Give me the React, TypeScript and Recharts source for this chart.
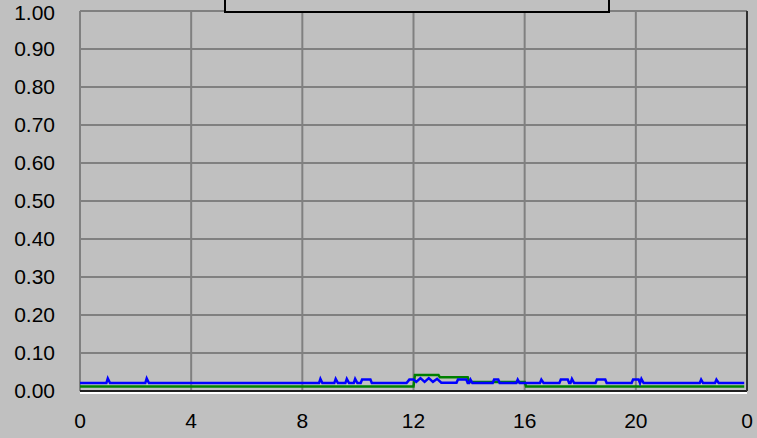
import React from "react";
import {
  LineChart,
  Line,
  XAxis,
  YAxis,
  CartesianGrid,
  ReferenceLine,
} from "recharts";

// hours of day (0..24) and measured fraction
const blueHours = [
  0, 0.95, 1.0, 1.08, 2.35, 2.4, 2.48, 8.6, 8.65, 8.72, 9.15, 9.2, 9.28, 9.55,
  9.6, 9.68, 9.85, 9.9, 9.98, 10.1, 10.15, 10.45, 10.5, 11.75, 11.85, 12.0,
  12.1, 12.25, 12.4, 12.55, 12.7, 12.85, 13.0, 13.55, 13.6, 13.9, 13.95, 14.0,
  14.05, 14.12, 14.85, 14.9, 15.05, 15.1, 15.7, 15.75, 15.82, 16.55, 16.6,
  16.68, 17.25, 17.3, 17.55, 17.6, 17.65, 17.7, 17.78, 18.55, 18.6, 18.9,
  18.95, 19.85, 19.9, 20.1, 20.15, 20.2, 20.28, 22.3, 22.35, 22.42, 22.85,
  22.9, 22.98, 23.9,
];
const blueValues = [
  0.021, 0.021, 0.033, 0.021, 0.021, 0.033, 0.021, 0.021, 0.032, 0.021, 0.021,
  0.032, 0.021, 0.021, 0.032, 0.021, 0.021, 0.032, 0.021, 0.021, 0.03, 0.03,
  0.021, 0.021, 0.03, 0.03, 0.024, 0.034, 0.024, 0.034, 0.024, 0.032, 0.022,
  0.022, 0.03, 0.03, 0.021, 0.021, 0.03, 0.021, 0.021, 0.03, 0.03, 0.021,
  0.021, 0.03, 0.021, 0.021, 0.03, 0.021, 0.021, 0.03, 0.03, 0.021, 0.021,
  0.032, 0.021, 0.021, 0.03, 0.03, 0.021, 0.021, 0.03, 0.03, 0.021, 0.032,
  0.021, 0.021, 0.03, 0.021, 0.021, 0.03, 0.021, 0.021,
];

const greenHours = [0, 12.0, 12.05, 12.9, 12.95, 13.95, 14.0, 16.0, 16.05, 23.9];
const greenValues = [
  0.012, 0.012, 0.042, 0.042, 0.036, 0.036, 0.024, 0.024, 0.012, 0.012,
];

const xTicks = [0, 4, 8, 12, 16, 20, 24];
const yTicks = [0, 0.1, 0.2, 0.3, 0.4, 0.5, 0.6, 0.7, 0.8, 0.9, 1.0];

const blueData = blueHours.map((h, i) => ({ h, v: blueValues[i] }));
const greenData = greenHours.map((h, i) => ({ h, v: greenValues[i] }));

const tickStyle = {
  fontSize: 21,
  fill: "#000",
  fontFamily: "Liberation Sans, Arial, sans-serif",
};

export default function App() {
  return (
    <div
      style={{
        position: "absolute",
        left: 0,
        top: 0,
        width: 757,
        height: 438,
        background: "#c0c0c0",
        overflow: "hidden",
      }}
    >
      <LineChart
        width={757}
        height={438}
        margin={{ top: 11, right: 10, left: 0, bottom: 0 }}
      >
        <CartesianGrid stroke="#808080" strokeWidth={2} />
        <XAxis
          dataKey="h"
          type="number"
          domain={[0, 24]}
          ticks={xTicks}
          allowDuplicatedCategory={false}
          tickFormatter={(v: number) => (v === 24 ? "0" : String(v))}
          tick={tickStyle}
          tickSize={0}
          tickMargin={22}
          height={47}
          axisLine={{ stroke: "#ffffff", strokeWidth: 2, transform: "translate(0,2)" }}
        />
        <YAxis
          type="number"
          domain={[0, 1]}
          ticks={yTicks}
          tickFormatter={(v: number) => v.toFixed(2)}
          tick={tickStyle}
          tickSize={0}
          tickMargin={25}
          width={80}
          axisLine={false}
        />
        <ReferenceLine y={0} stroke="#202020" strokeWidth={2} />
        <ReferenceLine x={24} stroke="#303030" strokeWidth={2} />
        <Line
          data={greenData}
          dataKey="v"
          type="linear"
          stroke="#008000"
          strokeWidth={2.5}
          dot={false}
          isAnimationActive={false}
        />
        <Line
          data={blueData}
          dataKey="v"
          type="linear"
          stroke="#0000ff"
          strokeWidth={2.5}
          dot={false}
          isAnimationActive={false}
        />
      </LineChart>
      <div
        style={{
          position: "absolute",
          left: 224,
          top: -10,
          width: 382,
          height: 19,
          border: "2px solid #000",
          background: "#c0c0c0",
        }}
      />
    </div>
  );
}
